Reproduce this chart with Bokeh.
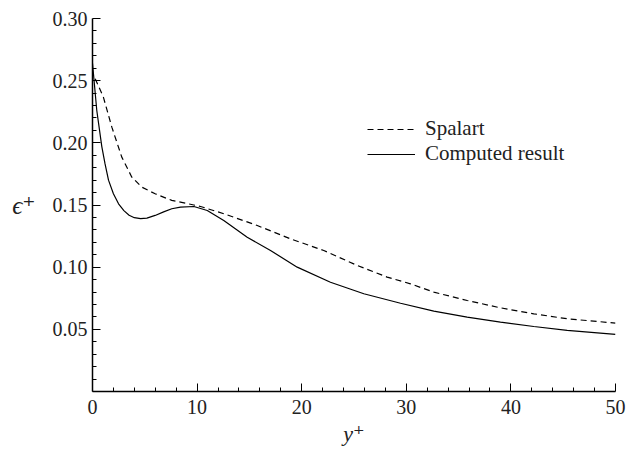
from bokeh.plotting import figure
from bokeh.models import Range1d, FixedTicker, Legend, LegendItem, CustomJSTickFormatter
from bokeh.embed import file_html
from bokeh.resources import INLINE

# Computed result (solid)
comp_x = [0.0, 0.41, 0.89, 1.2, 1.53, 2.0, 2.49, 3.0, 3.5, 4.0, 4.6, 5.2, 5.99, 6.8, 7.58, 8.41, 9.69,
          10.97, 12.55, 14.79, 17.02, 19.57, 22.75, 25.94, 29.45, 32.63, 35.82, 39.0,
          42.19, 45.38, 50.0]
comp_y = [0.264, 0.226, 0.197, 0.183, 0.170, 0.159, 0.151, 0.1455, 0.1418, 0.1398, 0.139, 0.1395, 0.1416,
          0.1445, 0.147, 0.1483, 0.1488, 0.1456, 0.1376, 0.1241, 0.1134, 0.100, 0.0879, 0.0786,
          0.071, 0.0646, 0.0598, 0.0558, 0.0523, 0.0491, 0.046]

# Spalart (dashed)
spal_x = [0.26, 1.04, 1.85, 2.80, 3.76, 4.71, 5.99, 7.58, 8.41, 10.33, 12.55, 15.75, 18.93,
          22.11, 25.30, 28.17, 30.4, 32.63, 35.82, 39.0, 42.19, 45.38, 50.0]
spal_y = [0.2516, 0.2368, 0.2126, 0.1885, 0.1724, 0.1644, 0.159, 0.1537, 0.1523, 0.1488,
          0.143, 0.1335, 0.1228, 0.1134, 0.1014, 0.092, 0.0866, 0.0799, 0.0732, 0.0673,
          0.0625, 0.0585, 0.055]

x_ticks = [0, 10, 20, 30, 40, 50]
x_minor = [v for v in range(2, 50, 2) if v % 10 != 0]
y_ticks = [0.05, 0.10, 0.15, 0.20, 0.25, 0.30]
y_minor = [round(0.01 * i, 2) for i in range(1, 30) if i % 5 != 0]

FONT = "'Liberation Serif', 'DejaVu Serif', serif"

p = figure(width=628, height=452, output_backend="svg", toolbar_location=None,
           x_range=Range1d(0, 50), y_range=Range1d(0, 0.30),
           min_border_left=92, min_border_right=13, min_border_top=18, min_border_bottom=61)
p.outline_line_color = None
p.xgrid.visible = False
p.ygrid.visible = False
p.background_fill_color = "white"
p.border_fill_color = "white"

p.xaxis.ticker = FixedTicker(ticks=x_ticks, minor_ticks=x_minor)
p.yaxis.ticker = FixedTicker(ticks=y_ticks, minor_ticks=y_minor)
p.yaxis.formatter = CustomJSTickFormatter(code="return tick.toFixed(2);")

for ax in (p.xaxis[0], p.yaxis[0]):
    ax.axis_line_width = 1.5
    ax.axis_line_color = "black"
    ax.major_tick_in = 8
    ax.major_tick_out = 0
    ax.minor_tick_in = 4
    ax.minor_tick_out = 0
    ax.major_tick_line_color = "black"
    ax.minor_tick_line_color = "black"
    ax.major_label_text_font = FONT
    ax.major_label_text_font_size = "20px"
    ax.major_label_text_color = "#222222"
    ax.axis_label_text_font = FONT
    ax.axis_label_text_font_size = "22px"
    ax.axis_label_text_font_style = "italic"
    ax.axis_label_text_color = "#222222"

p.xaxis.axis_label = "y⁺"
p.xaxis.major_label_standoff = 8
p.xaxis.axis_label_standoff = 4
p.yaxis.axis_label = "ϵ⁺"
p.yaxis.axis_label_text_font_size = "25px"
p.yaxis.axis_label_orientation = "horizontal"
p.yaxis.major_label_standoff = 5
p.yaxis.axis_label_standoff = 14

r_sp = p.line(spal_x, spal_y, line_color="black", line_width=1.2, line_dash="6 4")
r_cp = p.line(comp_x, comp_y, line_color="black", line_width=1.2)

legend = Legend(items=[LegendItem(label="Spalart", renderers=[r_sp]),
                       LegendItem(label="Computed result", renderers=[r_cp])],
                location=(275, 225), padding=0, margin=0, spacing=0,
                glyph_width=48, glyph_height=22, label_height=22, label_standoff=10,
                border_line_color=None, background_fill_alpha=0,
                label_text_font=FONT, label_text_font_size="21px", label_text_color="#222222")
p.add_layout(legend)

open("out.html", "w").write(file_html(p, INLINE))
